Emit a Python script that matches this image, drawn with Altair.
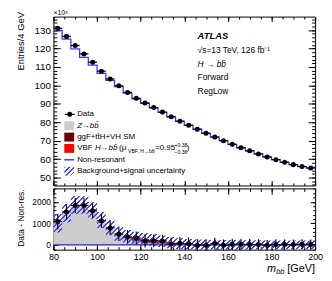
import numpy as np
import pandas as pd
import altair as alt

# ---------------- data ----------------
bin_edges = [80, 84, 88, 92, 96, 100, 104, 108, 112, 116, 120, 124, 128, 132, 136,
             140, 144, 148, 152, 156, 160, 164, 168, 172, 176, 180, 184, 188, 192, 196, 200]
bin_centers = [82, 86, 90, 94, 98, 102, 106, 110, 114, 118, 122, 126, 130, 134, 138,
               142, 146, 150, 154, 158, 162, 166, 170, 174, 178, 182, 186, 190, 194, 198]
data_counts = [131000, 126600, 121600, 117100, 112600, 107700, 103500, 99800, 96200, 93000,
               90400, 88000, 85500, 83000, 80600, 78400, 76200, 74000, 72000, 70000,
               68000, 66200, 64500, 62800, 61200, 59700, 58300, 57000, 56000, 55200]
data_err = [362, 356, 349, 342, 336, 328, 322, 316, 310, 305, 301, 297, 292, 288, 284,
            280, 276, 272, 268, 265, 261, 257, 254, 251, 247, 244, 241, 239, 237, 235]
nonres_counts = [129920, 125070, 119770, 115270, 111020, 106580, 102710, 99300, 95830, 92680,
                 90215, 87815, 85315, 82955, 80525, 78340, 76215, 74015, 71940, 70015,
                 67970, 66170, 64485, 62785, 61215, 59685, 58285, 56985, 55970, 55185]
zbb_counts = [1000, 1480, 1850, 1850, 1600, 1150, 790, 500, 310, 190, 115, 75, 48, 30, 20,
              12, 8, 5, 3, 2, 1, 1, 0, 0, 0, 0, 0, 0, 0, 0]
ggf_counts = [0, 0, 0, 0, 0, 2, 5, 10, 22, 35, 42, 38, 28, 15, 8, 4, 2, 0, 0, 0,
              0, 0, 0, 0, 0, 0, 0, 0, 0, 0]
vbf_counts = [0, 0, 0, 0, 0, 3, 8, 18, 45, 85, 115, 118, 95, 60, 32, 15, 6, 2, 0, 0,
              0, 0, 0, 0, 0, 0, 0, 0, 0, 0]
unc_counts = [430, 425, 415, 405, 390, 370, 350, 330, 310, 295, 285, 275, 265, 258, 250,
              245, 240, 235, 230, 226, 222, 218, 215, 212, 210, 207, 205, 203, 201, 200]

x_major = [80, 100, 120, 140, 160, 180, 200]
x_minor = list(range(80, 201, 5))
y_top_major = [50, 60, 70, 80, 90, 100, 110, 120, 130]
y_top_minor = list(range(46, 137, 2))
y_bot_major = [0, 1000, 2000]
y_bot_minor = list(range(-200, 2601, 200))

# ---------------- styling ----------------
FONT = "Liberation Sans"
W, H1, H2 = 265, 171, 62
X_DOM = [80, 200]
Y1_DOM = [45.7, 137.34]
Y2_DOM = [-220, 2620]
BLUE = "#3c3cff"
HATCH = "#4646ff"
GREY = "#cccccc"
DARKRED = "#6e0000"
RED = "#ff0000"

xs = alt.Scale(domain=X_DOM, nice=False, zero=False)
ys1 = alt.Scale(domain=Y1_DOM, nice=False, zero=False)
ys2 = alt.Scale(domain=Y2_DOM, nice=False, zero=False)


def tick_axis(orient, values, size, labels=False, fs=10):
    kw = dict(orient=orient, values=values, tickSize=size, offset=-size, domain=False,
              grid=False, labels=labels, ticks=True, tickColor="black", tickWidth=1,
              title=None)
    if labels:
        kw.update(labelFontSize=fs, labelFont=FONT, labelColor="black", labelPadding=3,
                  labelFlush=False, format="d", labelOverlap=False)
    return alt.Axis(**kw)


def hatch(w, h, period=3.6, lw=1.3, color=HATCH):
    r = h / w
    k = (1 + r) / (1 + r * r)
    total = (w + h) / np.sqrt(2)
    n = int(np.ceil(total / period))
    a = lw / period
    clear = "rgba(70,70,255,0)"
    stops = []
    for i in range(n):
        s0 = i / n
        s1 = min((i + a) / n, 1.0)
        s2 = (i + 1) / n
        stops += [alt.GradientStop(offset=s0, color=color),
                  alt.GradientStop(offset=s1, color=color),
                  alt.GradientStop(offset=s1, color=clear),
                  alt.GradientStop(offset=s2, color=clear)]
    return alt.LinearGradient(gradient="linear", stops=stops, x1=0, y1=0, x2=k, y2=k * r)


# ---------------- tables ----------------
d = np.array(data_counts, float)
e = np.array(data_err, float)
nr = np.array(nonres_counts, float)
zb = np.array(zbb_counts, float)
gg = np.array(ggf_counts, float)
vb = np.array(vbf_counts, float)
un = np.array(unc_counts, float)
sig = zb + gg + vb

pts = pd.DataFrame({
    "x": bin_centers, "xl": bin_edges[:-1], "xh": bin_edges[1:],
    "top": d / 1000, "top_lo": (d - e) / 1000, "top_hi": (d + e) / 1000,
    "diff": d - nr, "diff_lo": d - nr - e, "diff_hi": d - nr + e,
})


def ext(a):
    a = list(a)
    return a + [a[-1]]


steps = pd.DataFrame({
    "x": bin_edges,
    "nonres": ext(nr / 1000),
    "band_lo": ext((nr + sig - un) / 1000),
    "band_hi": ext((nr + sig + un) / 1000),
    "z0": 0.0,
    "z1": ext(zb),
    "g1": ext(zb + gg),
    "v1": ext(sig),
    "u_lo": ext(sig - un),
    "u_hi": ext(sig + un),
})

band_h = (steps["u_hi"].max() - steps["u_lo"].min()) / (Y2_DOM[1] - Y2_DOM[0]) * H2
band_fill = hatch(W, band_h)
swatch_fill = hatch(10, 9)

dummy = pd.DataFrame({"_": [0]})


def txt(s, x, y, size=8, align="left", style="normal", weight="normal", angle=0,
        baseline="middle"):
    kw = dict(font=FONT, fontSize=size, align=align, baseline=baseline,
              fontStyle=style, fontWeight=weight, color="black")
    if angle:
        kw["angle"] = angle
    return alt.Chart(dummy).mark_text(**kw).encode(
        x=alt.value(x), y=alt.value(y), text=alt.value(s))


def box(x1, x2, y1, y2, fill):
    return alt.Chart(dummy).mark_rect(fill=fill, stroke=None).encode(
        x=alt.value(x1), x2=alt.value(x2), y=alt.value(y1), y2=alt.value(y2))


def hrule(x1, x2, y, color, width):
    return alt.Chart(dummy).mark_rule(color=color, strokeWidth=width).encode(
        x=alt.value(x1), x2=alt.value(x2), y=alt.value(y))


# ---------------- top panel ----------------
t_band = alt.Chart(steps).mark_area(interpolate="step-after", fill="#a9a9ff",
                                    opacity=0.8).encode(
    x=alt.X("x:Q", scale=xs, axis=tick_axis("bottom", x_major, 5)),
    y=alt.Y("band_lo:Q", scale=ys1, axis=tick_axis("left", y_top_major, 7, True, 10)),
    y2="band_hi:Q")
t_line = alt.Chart(steps).mark_line(interpolate="step-after", color=BLUE,
                                    strokeWidth=1.3).encode(
    x=alt.X("x:Q", scale=xs, axis=tick_axis("bottom", x_minor, 2.5)),
    y=alt.Y("nonres:Q", scale=ys1, axis=tick_axis("left", y_top_minor, 3.5)))
t_ev = alt.Chart(pts).mark_rule(color="black", strokeWidth=1.1).encode(
    x=alt.X("x:Q", scale=xs, axis=tick_axis("top", x_major, 5)),
    y=alt.Y("top_lo:Q", scale=ys1, axis=tick_axis("right", y_top_major, 7)),
    y2="top_hi:Q")
t_eh = alt.Chart(pts).mark_rule(color="black", strokeWidth=1.1).encode(
    x=alt.X("xl:Q", scale=xs, axis=tick_axis("top", x_minor, 2.5)),
    x2="xh:Q",
    y=alt.Y("top:Q", scale=ys1, axis=tick_axis("right", y_top_minor, 3.5)))
t_pts = alt.Chart(pts).mark_point(filled=True, color="black", size=26, opacity=1).encode(
    x=alt.X("x:Q", scale=xs, axis=None),
    y=alt.Y("top:Q", scale=ys1, axis=None))

top_text = [
    txt("\u00d710\u00b3", 0, -1, 7, baseline="bottom"),
    txt("Entries/4 GeV", -33, 25, 9.5, align="center", angle=270),
    txt("ATLAS", 146, 20, 9.5, style="italic", weight="bold"),
    txt("\u221as=13 TeV, 126 fb\u207b\u00b9", 146, 34, 8.5),
    txt("H \u2192 bb\u0304", 146, 48, 8.5, style="italic"),
    txt("Forward", 146, 61.5, 8.5),
    txt("RegLow", 146, 75, 8.5),
    # legend
    hrule(11.5, 21.5, 99, "black", 1.1),
    alt.Chart(dummy).mark_point(filled=True, color="black", size=26, opacity=1).encode(
        x=alt.value(16.5), y=alt.value(99)),
    txt("Data", 24, 99, 8),
    box(11, 21, 106, 115, GREY),
    txt("Z\u2192bb\u0304", 24, 110.5, 8, style="italic"),
    box(11, 21, 117.5, 126.5, DARKRED),
    txt("ggF+tt\u0304H+VH SM", 24, 122, 8),
    box(11, 21, 129, 138, RED),
    txt("VBF", 24, 133.5, 8),
    txt("H\u2192bb\u0304", 42, 133.5, 8, style="italic"),
    txt("(\u03bc", 66.5, 133.5, 8),
    txt("VBF, H\u2192bb\u0304", 75.5, 136.5, 5.2),
    txt("=0.95", 103, 133.5, 8),
    txt("+0.38", 122.5, 130.5, 5.2),
    txt("\u22120.36", 122.5, 136.8, 5.2),
    txt(")", 135, 133.5, 8),
    hrule(11, 21, 145, BLUE, 1.5),
    txt("Non-resonant", 24, 145, 8),
    box(11, 21, 152, 161, swatch_fill),
    txt("Background+signal uncertainty", 24, 156.5, 8),
]

top = alt.layer(t_band, t_line, t_ev, t_eh, t_pts, *top_text).resolve_axis(
    x="independent", y="independent").properties(width=W, height=H1)

# ---------------- bottom panel ----------------
b_z = alt.Chart(steps).mark_area(interpolate="step-after", fill=GREY, opacity=1).encode(
    x=alt.X("x:Q", scale=xs, axis=tick_axis("bottom", x_major, 6, True, 9)),
    y=alt.Y("z0:Q", scale=ys2, axis=tick_axis("left", y_bot_major, 5, True, 8.5)),
    y2="z1:Q")
b_g = alt.Chart(steps).mark_area(interpolate="step-after", fill=DARKRED, opacity=1).encode(
    x=alt.X("x:Q", scale=xs, axis=tick_axis("bottom", x_minor, 3)),
    y=alt.Y("z1:Q", scale=ys2, axis=tick_axis("left", y_bot_minor, 2.5)),
    y2="g1:Q")
b_v = alt.Chart(steps).mark_area(interpolate="step-after", fill=RED, opacity=1).encode(
    x=alt.X("x:Q", scale=xs, axis=tick_axis("top", x_major, 6)),
    y=alt.Y("g1:Q", scale=ys2, axis=tick_axis("right", y_bot_major, 5)),
    y2="v1:Q")
b_u = alt.Chart(steps).mark_area(interpolate="step-after", fill=band_fill, opacity=1).encode(
    x=alt.X("x:Q", scale=xs, axis=tick_axis("top", x_minor, 3)),
    y=alt.Y("u_lo:Q", scale=ys2, axis=tick_axis("right", y_bot_minor, 2.5)),
    y2="u_hi:Q")
b_zero = alt.Chart(dummy).mark_rule(color="#2424c8", strokeWidth=1.3).encode(
    y=alt.YDatum(0, scale=ys2, axis=None))
b_ev = alt.Chart(pts).mark_rule(color="black", strokeWidth=1.1).encode(
    x=alt.X("x:Q", scale=xs, axis=None),
    y=alt.Y("diff_lo:Q", scale=ys2, axis=None), y2="diff_hi:Q")
b_eh = alt.Chart(pts).mark_rule(color="black", strokeWidth=1.1).encode(
    x=alt.X("xl:Q", scale=xs, axis=None), x2="xh:Q",
    y=alt.Y("diff:Q", scale=ys2, axis=None))
b_pts = alt.Chart(pts).mark_point(filled=True, color="black", size=26, opacity=1).encode(
    x=alt.X("x:Q", scale=xs, axis=None),
    y=alt.Y("diff:Q", scale=ys2, axis=None))

bot_text = [
    txt("Data - Non-res.", -33, 30, 8.5, align="center", angle=270),
    txt("m", 216.4, 82, 11, style="italic"),
    txt("bb", 225.6, 85, 7.5, style="italic"),
    txt("[GeV]", 265, 82, 11, align="right"),
]

bottom = alt.layer(b_z, b_g, b_v, b_u, b_zero, b_ev, b_eh, b_pts, *bot_text).resolve_axis(
    x="independent", y="independent").properties(width=W, height=H2)

chart = alt.vconcat(top, bottom, spacing=1).properties(
    padding={"left": 7, "top": -2, "right": 0, "bottom": 0},
    background="white",
).configure(font=FONT).configure_view(stroke="black", strokeWidth=1)

chart.save("out.html", embed_options={"renderer": "svg", "actions": False})
